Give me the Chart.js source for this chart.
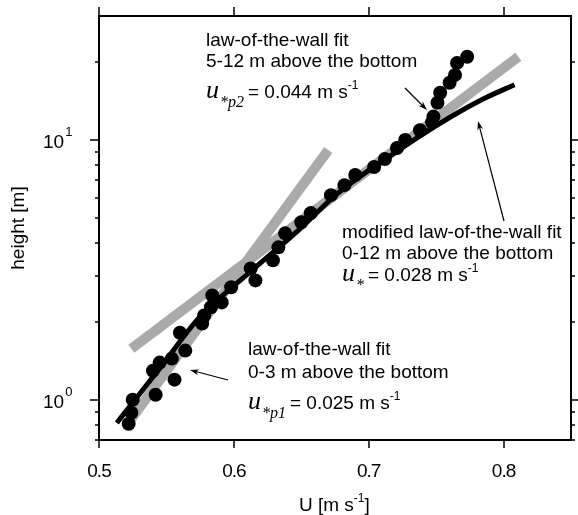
<!DOCTYPE html>
<html>
<head>
<meta charset="utf-8">
<script src="https://cdn.jsdelivr.net/npm/chart.js@4.4.1/dist/chart.umd.min.js"></script>
<style>
  html, body { margin: 0; padding: 0; background: #fff; }
  #wrap { width: 578px; height: 515px; }
</style>
</head>
<body>
<div id="wrap"><canvas id="myChart" width="578" height="515"></canvas></div>
<script>
// measured velocity profile
var uObs = [0.522, 0.524, 0.525, 0.542, 0.556, 0.540, 0.545, 0.554, 0.564, 0.560,
            0.5765, 0.578, 0.583, 0.584, 0.591, 0.598, 0.6125, 0.616, 0.629, 0.633,
            0.638, 0.650, 0.657, 0.672, 0.682, 0.690, 0.704, 0.712, 0.721, 0.727,
            0.738, 0.747, 0.748, 0.751, 0.753, 0.760, 0.764, 0.7655, 0.773];
var zObs = [0.808, 0.891, 1.0, 1.045, 1.195, 1.294, 1.39, 1.44, 1.546, 1.81,
            1.965, 2.11, 2.27, 2.52, 2.37, 2.71, 3.2, 2.88, 3.44, 3.86,
            4.37, 4.82, 5.23, 6.13, 6.70, 7.33, 7.87, 8.45, 9.31, 10.0,
            10.9, 11.7, 12.3, 13.9, 15.2, 16.6, 17.8, 19.8, 20.9];

// modified law-of-the-wall fit, 0-12 m
var uFit = [0.5132, 0.5449, 0.5743, 0.611, 0.6478, 0.6772, 0.7213, 0.7507, 0.7680, 0.7875, 0.8081];
var zFit = [0.815, 1.318, 2.07, 3.07, 4.49, 6.24, 9.07, 11.4, 12.9, 14.6, 16.3];

// law-of-the-wall fits, 0-3 m (p1) and 5-12 m (p2)
var uP1 = [0.524, 0.670];
var zP1 = [0.845, 9.15];
var uP2 = [0.524, 0.811];
var zP2 = [1.57, 20.9];

var xTicks = [0.5, 0.6, 0.7, 0.8];
var yMajor = [1, 10];
var yMinor = [0.7, 0.8, 0.9, 2, 3, 4, 5, 6, 7, 8, 9, 20];

function pts(us, zs) { return us.map(function (u, i) { return { x: u, y: zs[i] }; }); }

var SANS = '"Liberation Sans", Arial, Helvetica, sans-serif';
var SERIF = '"Liberation Serif", "Times New Roman", serif';

// draws a row of text pieces, each with its own font and vertical shift
function runs(ctx, x, y, parts) {
  parts.forEach(function (p) {
    ctx.font = p.f;
    ctx.fillText(p.t, x, y + (p.dy || 0));
    x += ctx.measureText(p.t).width + (p.gap || 0);
  });
}

function arrow(ctx, x1, y1, x2, y2) {
  var a = Math.atan2(y2 - y1, x2 - x1), L = 9, W = 3;
  ctx.lineWidth = 1.2;
  ctx.beginPath();
  ctx.moveTo(x1, y1);
  ctx.lineTo(x2 - Math.cos(a) * 5, y2 - Math.sin(a) * 5);
  ctx.stroke();
  ctx.beginPath();
  ctx.moveTo(x2, y2);
  ctx.lineTo(x2 - L * Math.cos(a) + W * Math.sin(a), y2 - L * Math.sin(a) - W * Math.cos(a));
  ctx.lineTo(x2 - L * Math.cos(a) * 0.7, y2 - L * Math.sin(a) * 0.7);
  ctx.lineTo(x2 - L * Math.cos(a) - W * Math.sin(a), y2 - L * Math.sin(a) + W * Math.cos(a));
  ctx.closePath();
  ctx.fill();
}

var frame = {
  id: 'frame',
  afterDraw: function (chart) {
    var ctx = chart.ctx, a = chart.chartArea, x = chart.scales.x, y = chart.scales.y;
    ctx.save();
    ctx.strokeStyle = '#000';
    ctx.fillStyle = '#000';
    ctx.lineWidth = 2;
    ctx.strokeRect(a.left, a.top, a.right - a.left, a.bottom - a.top);

    function seg(x1, y1, x2, y2) { ctx.beginPath(); ctx.moveTo(x1, y1); ctx.lineTo(x2, y2); ctx.stroke(); }
    ctx.lineWidth = 1.5;
    xTicks.forEach(function (v) {
      var px = Math.round(x.getPixelForValue(v));
      seg(px, a.bottom, px, a.bottom + 8);
      seg(px, a.top, px, a.top - 9);
    });
    yMajor.forEach(function (v) {
      var py = Math.round(y.getPixelForValue(v));
      seg(a.left - 9, py, a.left, py);
      seg(a.right, py, a.right + 9, py);
    });
    yMinor.forEach(function (v) {
      var py = Math.round(y.getPixelForValue(v));
      seg(a.left - 4, py, a.left, py);
      seg(a.right, py, a.right + 4, py);
    });

    // tick labels
    ctx.textBaseline = 'alphabetic';
    ctx.font = '19px ' + SANS;
    ctx.textAlign = 'center';
    ctx.letterSpacing = '-1px';
    xTicks.forEach(function (v) {
      ctx.fillText(v.toFixed(1), x.getPixelForValue(v), a.bottom + 37);
    });
    ctx.letterSpacing = '0px';
    ctx.textAlign = 'left';
    yMajor.forEach(function (v) {
      var py = y.getPixelForValue(v);
      runs(ctx, 43, py + 8, [
        { t: '10', f: '19px ' + SANS, gap: 1 },
        { t: String(Math.round(Math.log10(v))), f: '13px ' + SANS, dy: -12 }
      ]);
    });

    // axis titles
    ctx.font = '19px ' + SANS;
    var cx = (a.left + a.right) / 2;
    var w = ctx.measureText('U [m s').width + 12 + ctx.measureText(']').width;
    runs(ctx, cx - w / 2, 511, [
      { t: 'U [m s', f: '19px ' + SANS },
      { t: '-1', f: '12px ' + SANS, dy: -9 },
      { t: ']', f: '19px ' + SANS }
    ]);
    ctx.save();
    ctx.translate(24, (a.top + a.bottom) / 2);
    ctx.rotate(-Math.PI / 2);
    ctx.textAlign = 'center';
    ctx.font = '19px ' + SANS;
    ctx.fillText('height [m]', 0, 0);
    ctx.restore();

    // annotations
    var body = '19px ' + SANS;
    ctx.font = body;
    ctx.fillText('law-of-the-wall fit', 206, 46);
    ctx.fillText('5-12 m above the bottom', 206, 67);
    runs(ctx, 206, 98, [
      { t: 'u', f: 'italic 26px ' + SERIF, gap: 1 },
      { t: '*p2', f: 'italic 16px ' + SERIF, dy: 9, gap: 4 },
      { t: '= 0.044 m s', f: body },
      { t: '-1', f: '12px ' + SANS, dy: -9 }
    ]);

    ctx.font = body;
    ctx.fillText('modified law-of-the-wall fit', 342, 238);
    ctx.fillText('0-12 m above the bottom', 342, 259);
    runs(ctx, 342, 281, [
      { t: 'u', f: 'italic 26px ' + SERIF, gap: 1 },
      { t: '*', f: 'italic 16px ' + SERIF, dy: 9, gap: 4 },
      { t: '= 0.028 m s', f: body },
      { t: '-1', f: '12px ' + SANS, dy: -9 }
    ]);

    ctx.font = body;
    ctx.fillText('law-of-the-wall fit', 248, 355);
    ctx.fillText('0-3 m above the bottom', 248, 378);
    runs(ctx, 248, 409, [
      { t: 'u', f: 'italic 26px ' + SERIF, gap: 1 },
      { t: '*p1', f: 'italic 16px ' + SERIF, dy: 9, gap: 4 },
      { t: '= 0.025 m s', f: body },
      { t: '-1', f: '12px ' + SANS, dy: -9 }
    ]);

    arrow(ctx, 405, 88, 427, 110);
    arrow(ctx, 504, 221, 478, 121);
    arrow(ctx, 228, 380, 190, 370);
    ctx.restore();
  }
};

new Chart('myChart', {
  type: 'scatter',
  data: {
    datasets: [
      {
        data: pts(uObs, zObs),
        backgroundColor: '#000',
        borderWidth: 0,
        pointRadius: 7,
        pointHoverRadius: 7,
        order: 0
      },
      {
        type: 'line',
        data: pts(uFit, zFit),
        borderColor: '#000',
        borderWidth: 5,
        pointRadius: 0,
        cubicInterpolationMode: 'monotone',
        fill: false,
        order: 1
      },
      {
        type: 'line',
        data: pts(uP1, zP1),
        borderColor: '#aaaaaa',
        borderWidth: 10,
        pointRadius: 0,
        fill: false,
        order: 2
      },
      {
        type: 'line',
        data: pts(uP2, zP2),
        borderColor: '#aaaaaa',
        borderWidth: 10,
        pointRadius: 0,
        fill: false,
        order: 2
      }
    ]
  },
  options: {
    responsive: false,
    animation: false,
    events: [],
    layout: { padding: { left: 99, top: 16, right: 3, bottom: 75 } },
    plugins: { legend: { display: false }, tooltip: { enabled: false } },
    scales: {
      x: { type: 'linear', min: 0.5, max: 0.85, display: false },
      y: { type: 'logarithmic', min: 0.7, max: 30, display: false }
    }
  },
  plugins: [frame]
});
</script>
</body>
</html>
